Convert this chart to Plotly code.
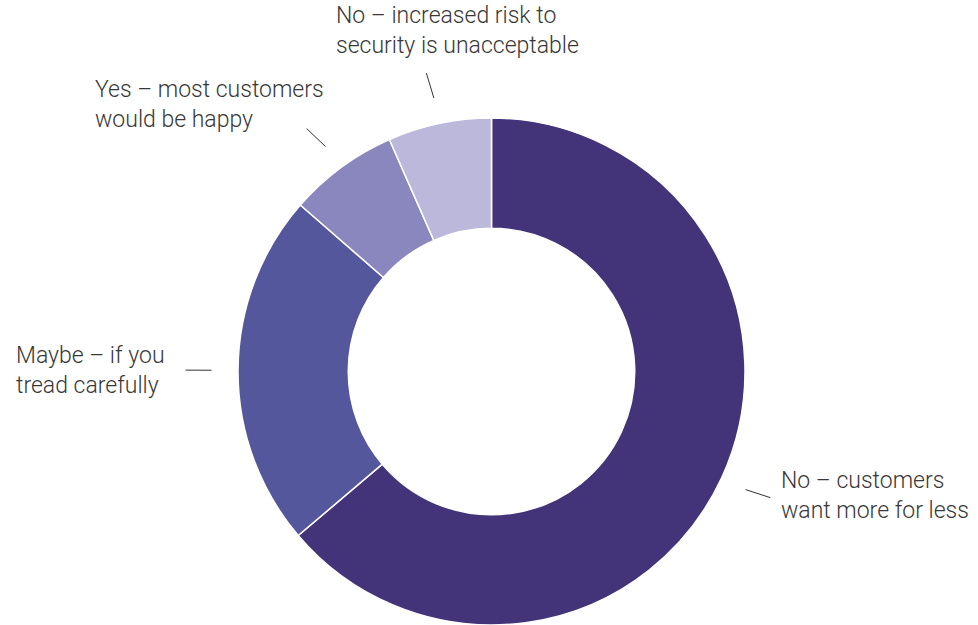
import math
import plotly.graph_objects as go

# Survey answers, clockwise from 12 o'clock
labels = [
    "No – customers<br>want more for less",
    "Maybe – if you<br>tread carefully",
    "Yes – most customers<br>would be happy",
    "No – increased risk to<br>security is unacceptable",
]
shares = [63.8, 22.6, 7.0, 6.6]
colors = ["#433378", "#55579d", "#8a86be", "#bcb8dc"]

W, H = 978, 625
PIE_CX, PIE_CY, PIE_R = 491.5, 372, 254   # pixel centre / radius of the ring
HOLE = 0.565

# Label placement relative to the outer end of each leader line (pixels)
label_style = [
    dict(xanchor="left", yanchor="middle", dx=9, dy=-2),
    dict(xanchor="right", yanchor="middle", dx=-19, dy=0),
    dict(xanchor="right", yanchor="bottom", dx=19, dy=6),
    dict(xanchor="left", yanchor="bottom", dx=-92, dy=-12),
]

TEXT_FONT = dict(family="Roboto, 'Liberation Sans', sans-serif", size=23, color="#383838", weight=300)


def px(x, y):
    return x / W, 1 - y / H


fig = go.Figure(
    go.Pie(
        values=shares,
        labels=labels,
        hole=HOLE,
        sort=False,
        direction="clockwise",
        rotation=0,
        marker=dict(colors=colors, line=dict(color="white", width=1.5)),
        textinfo="none",
        hoverinfo="label+percent",
        domain=dict(
            x=[(PIE_CX - PIE_R) / W, (PIE_CX + PIE_R) / W],
            y=[max(0, 1 - (PIE_CY + PIE_R) / H), 1 - (PIE_CY - PIE_R) / H],
        ),
    )
)

# Leader lines and labels at each slice's mid-angle
total = sum(shares)
cum = 0.0
shapes, annotations = [], []
for lab, v, st in zip(labels, shares, label_style):
    mid = (cum + v / 2) / total * 2 * math.pi
    cum += v
    dx, dy = math.sin(mid), -math.cos(mid)
    sx, sy = PIE_CX + 280 * dx, PIE_CY + 280 * dy
    ux, uy = dx, 0.7 * dy
    n = math.hypot(ux, uy)
    ex, ey = sx + 26 * ux / n, sy + 26 * uy / n
    x0, y0 = px(sx, sy)
    x1, y1 = px(ex, ey)
    shapes.append(dict(type="line", xref="paper", yref="paper", x0=x0, y0=y0, x1=x1, y1=y1,
                       line=dict(color="#333333", width=1)))
    ax, ay = px(ex + st["dx"], ey + st["dy"])
    annotations.append(dict(text=lab, x=ax, y=ay, xref="paper", yref="paper", showarrow=False,
                            xanchor=st["xanchor"], yanchor=st["yanchor"], align="left",
                            font=TEXT_FONT))

fig.update_layout(
    width=W,
    height=H,
    margin=dict(l=0, r=0, t=0, b=0),
    paper_bgcolor="white",
    plot_bgcolor="white",
    showlegend=False,
    shapes=shapes,
    annotations=annotations,
)

fig.write_html("out.html")
